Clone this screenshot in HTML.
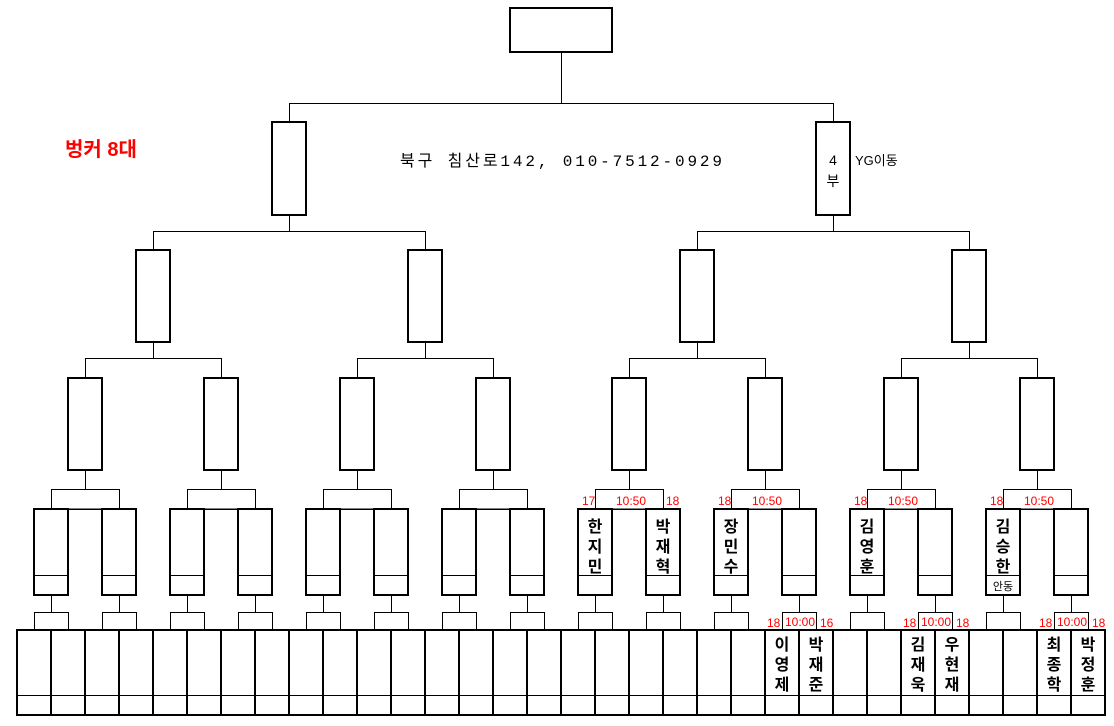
<!DOCTYPE html>
<html><head><meta charset="utf-8"><style>
html,body{margin:0;padding:0;background:#fff;}
svg{display:block;}
text{font-family:"Liberation Sans","Noto Sans CJK KR","NanumGothic",sans-serif;}
.r{fill:#f00;font-size:12px;}
.n{font-size:16px;font-weight:bold;fill:#000;}
</style></head><body>
<svg id="s" width="1114" height="726" viewBox="0 0 1114 726" xmlns="http://www.w3.org/2000/svg">
<g id="g" fill="none" stroke="#000"></g>
<text x="65" y="156" style="fill:#f00;font-size:20px;font-weight:bold">벙커 8대</text>
<text x="400" y="166" style="font-size:16px;font-family:'Liberation Mono','Noto Sans CJK KR',monospace" textLength="322">북구 침산로142,  010-7512-0929</text>
<text x="833" y="165" text-anchor="middle" style="font-size:14px">4</text>
<text x="833" y="186" text-anchor="middle" style="font-size:14px">부</text>
<text x="855" y="165" style="font-size:13px">YG이동</text>
<text class="r" x="582" y="505">17</text><text class="r" x="616" y="505">10:50</text><text class="r" x="666" y="505">18</text>
<text class="r" x="718" y="505">18</text><text class="r" x="752" y="505">10:50</text>
<text class="r" x="854" y="505">18</text><text class="r" x="888" y="505">10:50</text>
<text class="r" x="990" y="505">18</text><text class="r" x="1024" y="505">10:50</text>
<g class="n" text-anchor="middle">
<text x="595" y="532">한</text><text x="595" y="552">지</text><text x="595" y="572">민</text>
<text x="663" y="532">박</text><text x="663" y="552">재</text><text x="663" y="572">혁</text>
<text x="731" y="532">장</text><text x="731" y="552">민</text><text x="731" y="572">수</text>
<text x="867" y="532">김</text><text x="867" y="552">영</text><text x="867" y="572">훈</text>
<text x="1003" y="532">김</text><text x="1003" y="552">승</text><text x="1003" y="572">한</text>
</g>
<text x="1003" y="590" text-anchor="middle" style="font-size:11px">안동</text>
<text class="r" x="767" y="627">18</text><text class="r" x="785" y="626">10:00</text><text class="r" x="820" y="627">16</text>
<text class="r" x="903" y="627">18</text><text class="r" x="921" y="626">10:00</text><text class="r" x="956" y="627">18</text>
<text class="r" x="1039" y="627">18</text><text class="r" x="1057" y="626">10:00</text><text class="r" x="1092" y="627">18</text>
<g class="n" text-anchor="middle">
<text x="782" y="650">이</text><text x="782" y="670">영</text><text x="782" y="690">제</text>
<text x="816" y="650">박</text><text x="816" y="670">재</text><text x="816" y="690">준</text>
<text x="918" y="650">김</text><text x="918" y="670">재</text><text x="918" y="690">욱</text>
<text x="952" y="650">우</text><text x="952" y="670">현</text><text x="952" y="690">재</text>
<text x="1054" y="650">최</text><text x="1054" y="670">종</text><text x="1054" y="690">학</text>
<text x="1088" y="650">박</text><text x="1088" y="670">정</text><text x="1088" y="690">훈</text>
</g>
</svg>
<script>
var g=document.getElementById('g'),h='';
function L(x1,y1,x2,y2){h+='<line x1="'+x1+'" y1="'+y1+'" x2="'+x2+'" y2="'+y2+'" stroke-width="1"/>';}
function R(x,y,w,hh){h+='<rect x="'+x+'" y="'+y+'" width="'+w+'" height="'+hh+'" stroke-width="2"/>';}
function T(x,y,w,hh){h+='<rect x="'+x+'.5" y="'+y+'.5" width="'+w+'" height="'+hh+'" stroke-width="1"/>';}
R(510,8,102,44);L(561.5,52,561.5,103);L(289.5,103.5,833.5,103.5);
[272,816].forEach(function(x){R(x,122,34,93);L(x+17.5,103,x+17.5,122);});
L(289.5,215,289.5,231);L(153.5,231.5,425.5,231.5);
L(833.5,215,833.5,231);L(697.5,231.5,969.5,231.5);
[136,408,680,952].forEach(function(x){R(x,250,34,92);L(x+17.5,231,x+17.5,250);L(x+17.5,342,x+17.5,358);L(x-50.5,358.5,x+85.5,358.5);});
for(var k=0;k<8;k++){var x=34+136*k;
 R(x+34,378,34,92);L(x+51.5,358,x+51.5,378);
 L(x+51.5,470,x+51.5,489);T(x+17,489,68,20);
 R(x,509,34,86);R(x+68,509,34,86);L(x+34,509,x+68,509);
 L(x,575.5,x+34,575.5);L(x+68,575.5,x+102,575.5);
 L(x+17.5,595,x+17.5,612);L(x+85.5,595,x+85.5,612);
 T(x,612,34,18);T(x+68,612,34,18);
}
for(var i=0;i<32;i++){R(17+34*i,630,34,85);}
L(17,695.5,1105,695.5);
g.innerHTML=h;
</script>
</body></html>
